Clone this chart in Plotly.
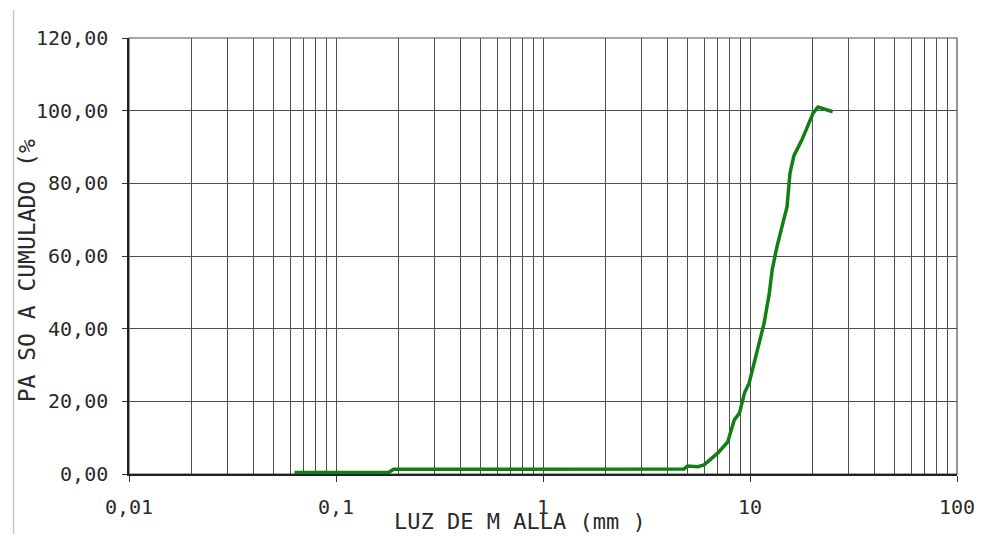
import plotly.graph_objects as go

# Sieve openings (mm) and cumulative passing (%)
luz_mm = [0.063, 0.08, 0.1, 0.125, 0.16, 0.18, 0.19, 0.25, 0.315, 0.4, 0.5, 0.63,
          0.8, 1.0, 1.25, 1.6, 2.0, 2.5, 3.15, 4.0, 4.8, 5.0, 5.6, 6.0, 7.0, 7.8,
          8.4, 8.9, 9.4, 9.9, 10.9, 11.7, 12.4, 12.8, 13.5, 15.1, 15.6, 16.3,
          17.8, 19.1, 20.2, 21.3, 25.1]
paso = [0.4, 0.45, 0.5, 0.5, 0.5, 0.5, 1.3, 1.3, 1.3, 1.3, 1.3, 1.3,
        1.3, 1.3, 1.3, 1.3, 1.3, 1.3, 1.3, 1.3, 1.4, 2.2, 2.0, 2.5, 5.8, 8.8,
        14.9, 16.8, 22.3, 25.0, 35.0, 41.5, 49.8, 56.2, 62.6, 73.6, 82.8, 87.6,
        91.9, 96.0, 99.4, 101.0, 99.7]

x_tickvals = [0.01, 0.1, 1, 10, 100]
x_ticktext = ["0,01", "0,1", "1", "10", "100"]
minor_mult = [2, 3, 4, 5, 6, 7, 8, 9]
minor_vals = [m * d for d in [0.01, 0.1, 1, 10] for m in minor_mult]

FONT = "DejaVu Sans Mono"
GRID = "#4f4f4f"
TXT = "#2a2a2a"

# plot area in page pixels (page has an 8px body margin)
OFF = 8
PL, PR, PT, PB = 129, 968, 38, 474
PW, PH = PR - PL, PB - PT
W, H = 979, 526

fig = go.Figure()
fig.add_trace(go.Scatter(
    x=luz_mm, y=paso, mode="lines",
    line=dict(color="#127f12", width=3.5),
    showlegend=False,
))

fig.update_layout(
    width=W, height=H,
    margin=dict(l=PL - OFF, r=W + OFF - PR, t=PT - OFF, b=H + OFF - PB),
    paper_bgcolor="white", plot_bgcolor="white",
    separators=",.",
    font=dict(family=FONT, color=TXT),
    xaxis=dict(
        type="log", range=[-2, 2],
        tickmode="array", tickvals=x_tickvals, ticktext=x_ticktext,
        ticks="outside", ticklen=6, tickcolor="#333", ticklabelstandoff=8,
        tickfont=dict(size=20, family=FONT, color=TXT),
        showgrid=True, gridcolor=GRID, gridwidth=1.2,
        minor=dict(tickmode="array", tickvals=minor_vals, showgrid=True,
                   gridcolor=GRID, gridwidth=1.2, ticks=""),
        showline=True, linecolor="#222", linewidth=1.5, mirror=False,
        zeroline=False,
    ),
    yaxis=dict(
        range=[0, 120], dtick=20, tick0=0, tickformat=".2f",
        ticks="outside", ticklen=5, tickcolor="#333", ticklabelstandoff=10,
        tickfont=dict(size=20, family=FONT, color=TXT),
        showgrid=True, gridcolor=GRID, gridwidth=1.2,
        showline=True, linecolor="#222", linewidth=1.5,
        zeroline=False,
    ),
    annotations=[
        dict(text="LUZ DE M ALLA (mm )", xref="paper", yref="paper",
             x=(525 - PL) / PW, y=(PB - 521) / PH, showarrow=False,
             xanchor="center", yanchor="middle",
             font=dict(size=22, family=FONT, color=TXT)),
        dict(text="PA SO A CUMULADO (%", xref="paper", yref="paper",
             x=(26 - PL) / PW, y=(PB - 271) / PH, showarrow=False,
             xanchor="center", yanchor="middle", textangle=-90,
             font=dict(size=23, family=FONT, color=TXT)),
    ],
    shapes=[
        dict(type="line", xref="paper", yref="paper",
             x0=(12 - PL) / PW, x1=(12 - PL) / PW,
             y0=(PB - 540) / PH, y1=(PB - 10) / PH,
             line=dict(color="#c8c8c8", width=1.5)),
        dict(type="rect", xref="paper", yref="paper", x0=0, x1=1, y0=0, y1=1,
             line=dict(color=GRID, width=1.2), layer="below"),
    ],
)

fig.write_html("out.html", config={"displayModeBar": False})
